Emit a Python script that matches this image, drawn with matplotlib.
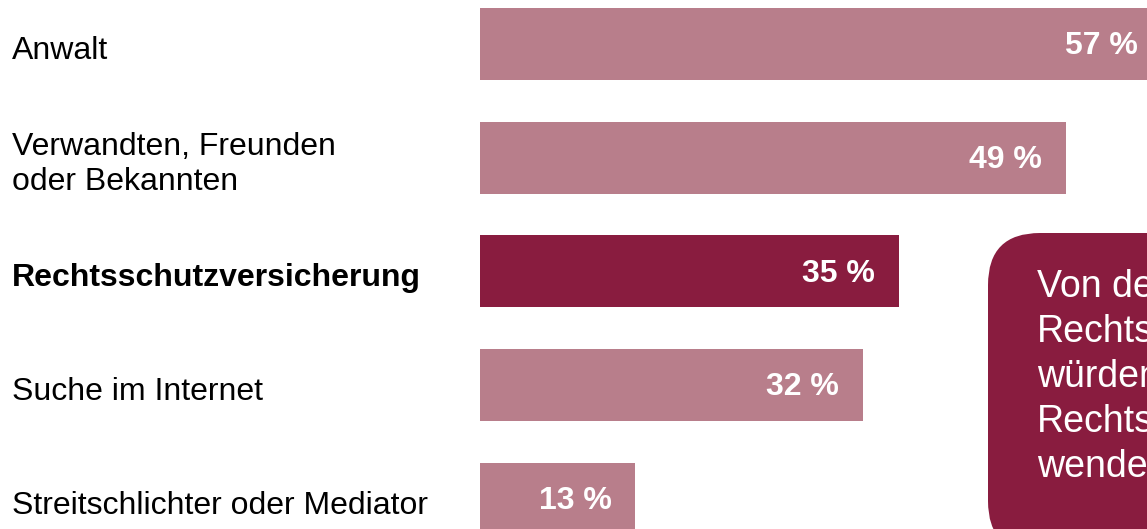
import matplotlib
matplotlib.use('Agg')
import matplotlib.pyplot as plt
from matplotlib.patches import FancyBboxPatch

plt.rcParams['font.family'] = ['Liberation Sans', 'DejaVu Sans']

kategorien = ['Anwalt', 'Verwandten, Freunden\noder Bekannten', 'Rechtsschutzversicherung',
              'Suche im Internet', 'Streitschlichter oder Mediator']
werte = [57, 49, 35, 32, 13]
hervorgehoben = [False, False, True, False, False]
box_zeilen = ['Von den', 'Rechtsschutz-', 'würden sich', 'Rechtsschutz-', 'wenden']

hell = '#B87E8B'
dunkel = '#891C3F'

W, H = 1147, 529
fig = plt.figure(figsize=(W/100, H/100), dpi=100)

# Hinweisbox rechts (in Pixelkoordinaten, liegt hinter allem)
bg = fig.add_axes([0, 0, 1, 1])
bg.set_xlim(0, W)
bg.set_ylim(H, 0)
bg.axis('off')
box = FancyBboxPatch((988, 233), 260, 320, boxstyle='round,pad=0,rounding_size=52',
                     facecolor=dunkel, edgecolor='none')
bg.add_patch(box)
bg.text(1037, 377, '\n'.join(box_zeilen), ha='left', va='center',
        color='white', fontsize=27, linespacing=1.32)

ax = fig.add_axes([480/W, 0, 667/W, 1])
ax.set_xlim(0, 667/11.96)
ax.set_ylim(4.266, -0.387)
ax.axis('off')

y = list(range(len(werte)))
farben = [dunkel if h else hell for h in hervorgehoben]
ax.barh(y, werte, height=0.633, color=farben)

for i, w in enumerate(werte):
    ax.text(w - 2.0, i + 0.02, f'{w} %', ha='right', va='center', color='white',
            fontsize=23, fontweight='bold', clip_on=True)

# Kategorien links
trans = matplotlib.transforms.blended_transform_factory(fig.transFigure, ax.transData)
for i, k in enumerate(kategorien):
    ax.text(12/W, i + 0.06, k, transform=trans, ha='left', va='center',
            fontsize=23, fontweight='bold' if hervorgehoben[i] else 'normal',
            color='black', linespacing=1.26)

fig.savefig('out.png', dpi=100)
